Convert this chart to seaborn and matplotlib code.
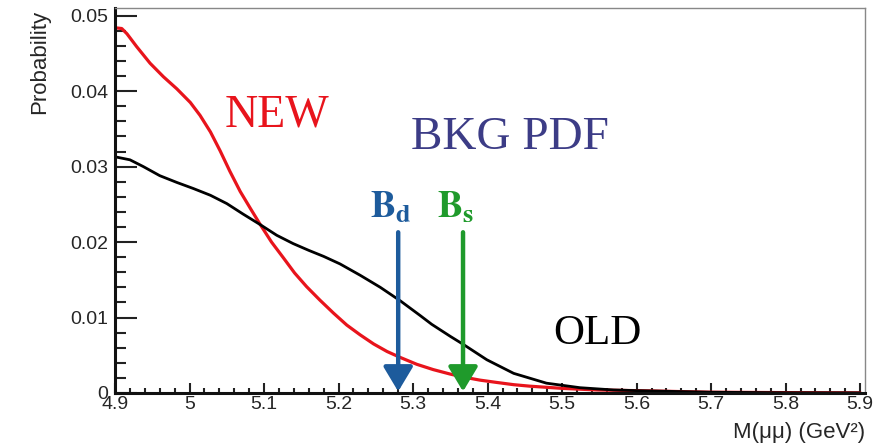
"""Background PDF for M(mumu): old vs new shape, with Bd / Bs mass arrows."""
import seaborn as sns
import matplotlib.pyplot as plt
import pandas as pd

# values
new_mass = [4.900, 4.909, 4.916, 4.929, 4.947, 4.965, 4.983, 5.001, 5.014, 5.028,
            5.041, 5.054, 5.068, 5.082, 5.095, 5.110, 5.126, 5.141, 5.157, 5.175,
            5.193, 5.211, 5.229, 5.247, 5.265, 5.283, 5.305, 5.327, 5.350, 5.368,
            5.390, 5.412, 5.435, 5.457, 5.502, 5.547, 5.605, 5.700, 5.800, 5.900]
new_prob = [0.0484, 0.0483, 0.0476, 0.0459, 0.0437, 0.0419, 0.0403, 0.0385, 0.0368, 0.0346,
            0.0321, 0.0294, 0.0267, 0.0244, 0.0223, 0.0200, 0.0179, 0.0159, 0.0141, 0.0123,
            0.0106, 0.0090, 0.0077, 0.0065, 0.0055, 0.0047, 0.0038, 0.0031, 0.0025, 0.0021,
            0.0017, 0.0014, 0.0011, 0.0009, 0.0006, 0.0004, 0.0003, 0.0001, 0.00005, 0.00002]

old_mass = [4.900, 4.920, 4.938, 4.960, 4.983, 5.005, 5.028, 5.050, 5.072, 5.095,
            5.117, 5.139, 5.160, 5.180, 5.202, 5.229, 5.256, 5.283, 5.309, 5.325,
            5.350, 5.368, 5.399, 5.435, 5.479, 5.524, 5.569, 5.605, 5.700, 5.800, 5.900]
old_prob = [0.0313, 0.0309, 0.0300, 0.0288, 0.0279, 0.0271, 0.0262, 0.0251, 0.0237, 0.0223,
            0.0209, 0.0198, 0.0189, 0.0181, 0.0171, 0.0156, 0.0140, 0.0122, 0.0103, 0.0091,
            0.0075, 0.0064, 0.0044, 0.0026, 0.0013, 0.0007, 0.0004, 0.0003, 0.0001, 0.00003, 0.00001]

meson_names = ["d", "s"]
meson_mass = [5.280, 5.367]
meson_colors = ["#1d5b9c", "#1f9a2b"]
arrow_top = 0.0213

x_ticks = [4.9, 5.0, 5.1, 5.2, 5.3, 5.4, 5.5, 5.6, 5.7, 5.8, 5.9]
x_ticklabels = ["4.9", "5", "5.1", "5.2", "5.3", "5.4", "5.5", "5.6", "5.7", "5.8", "5.9"]
y_ticks = [0, 0.01, 0.02, 0.03, 0.04, 0.05]
y_ticklabels = ["0", "0.01", "0.02", "0.03", "0.04", "0.05"]

dfrm = pd.concat([
    pd.DataFrame({'mass': new_mass, 'prob': new_prob, 'pdf': 'NEW'}),
    pd.DataFrame({'mass': old_mass, 'prob': old_prob, 'pdf': 'OLD'}),
])

sns.set_theme(style="ticks")
plt.rcParams['font.family'] = ['Liberation Sans', 'DejaVu Sans']
plt.rcParams['mathtext.fontset'] = 'stix'

fig = plt.figure(figsize=(8.85, 4.48), dpi=100)
ax = fig.add_axes([0.130, 0.1228, 0.847, 0.859])

sns.lineplot(data=dfrm, x='mass', y='prob', hue='pdf', ax=ax,
             palette={'NEW': '#e8141c', 'OLD': '#000000'}, legend=False)
ax.lines[0].set_linewidth(2.3)
ax.lines[1].set_linewidth(2.0)
for line in ax.lines:
    line.set_solid_joinstyle('round')

# B meson arrows
for name, mass, col in zip(meson_names, meson_mass, meson_colors):
    ax.annotate("", xy=(mass, 0.0002), xytext=(mass, arrow_top),
                arrowprops=dict(arrowstyle="-|>,head_width=0.45,head_length=0.75",
                                lw=3.2, color=col, shrinkA=0, shrinkB=0,
                                mutation_scale=20))
    ax.text(mass - 0.01, 0.0233, r"$\mathbf{B}_\mathbf{%s}$" % name, color=col,
            fontsize=27, ha='center', va='baseline')

serif = ['Liberation Serif', 'DejaVu Serif']
ax.text(5.117, 0.0368, "NEW", color='#e8141c', fontsize=33, family=serif,
        ha='center', va='center')
ax.text(5.548, 0.0079, "OLD", color='black', fontsize=31, family=serif,
        ha='center', va='center')
ax.text(5.430, 0.0338, "BKG PDF", color='#3c3c86', fontsize=34, family=serif,
        ha='center', va='center')

ax.set_xlim(4.9, 5.906)
ax.set_ylim(0, 0.051)
ax.set_xticks(x_ticks)
ax.set_xticklabels(x_ticklabels)
ax.set_yticks(y_ticks)
ax.set_yticklabels(y_ticklabels)
ax.set_xticks([4.9 + 0.02 * i for i in range(51)], minor=True)
ax.set_yticks([0.002 * i for i in range(26)], minor=True)
ax.tick_params(axis='both', which='both', direction='in', labelsize=14, width=1.5,
               color='#222222')
ax.tick_params(axis='y', which='major', length=16, pad=5)
ax.tick_params(axis='y', which='minor', length=8)
ax.tick_params(axis='x', which='major', length=7.5, pad=2)
ax.tick_params(axis='x', which='minor', length=3.6)

for side in ['left', 'bottom']:
    ax.spines[side].set_linewidth(2.2)
    ax.spines[side].set_color('#111111')
for side in ['top', 'right']:
    ax.spines[side].set_linewidth(1.0)
    ax.spines[side].set_color('#888888')

ax.set_ylabel("Probability", fontsize=16, loc='top')
ax.yaxis.set_label_coords(-0.087, 0.995)
ax.set_xlabel("M(μμ) (GeV²)", fontsize=16, loc='right')
ax.xaxis.set_label_coords(1.0, -0.075)

fig.savefig("out.png", dpi=100)
